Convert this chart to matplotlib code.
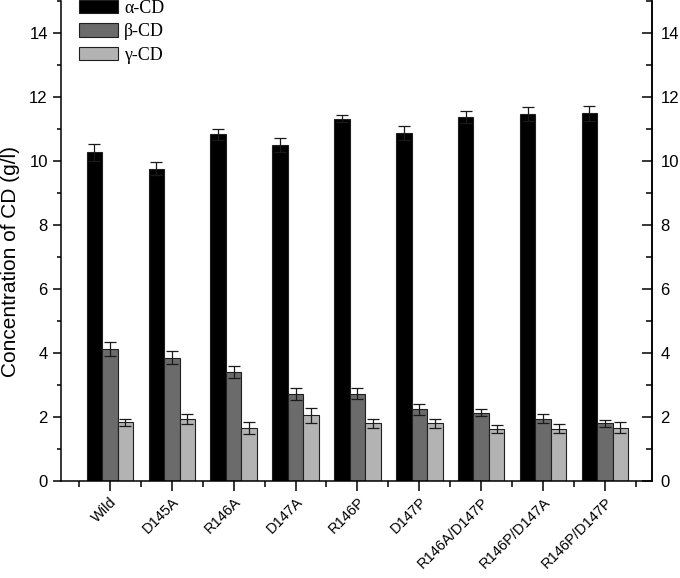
import matplotlib.pyplot as plt
import matplotlib.transforms as mtransforms
import numpy as np
from matplotlib.ticker import MultipleLocator

# Strains and measured CD concentrations (g/l)
strains = ['Wild', 'D145A', 'R146A', 'D147A', 'R146P', 'D147P',
           'R146A/D147P', 'R146P/D147A', 'R146P/D147P']
alpha_cd = [10.28, 9.77, 10.84, 10.51, 11.33, 10.89, 11.38, 11.47, 11.50]
alpha_err = [0.26, 0.20, 0.18, 0.23, 0.12, 0.22, 0.18, 0.21, 0.23]
beta_cd = [4.14, 3.86, 3.41, 2.72, 2.73, 2.24, 2.14, 1.95, 1.80]
beta_err = [0.22, 0.19, 0.19, 0.19, 0.18, 0.18, 0.10, 0.14, 0.12]
gamma_cd = [1.83, 1.93, 1.67, 2.05, 1.80, 1.80, 1.62, 1.64, 1.67]
gamma_err = [0.12, 0.15, 0.19, 0.24, 0.13, 0.14, 0.13, 0.14, 0.16]

plt.rcParams['font.family'] = ['Liberation Sans', 'DejaVu Sans']

fig = plt.figure(figsize=(6.8, 5.78), dpi=100)
ax = fig.add_axes([0.0897, 0.1678, 0.8691, 0.83])

x = np.arange(len(strains))
width = 0.25

series = [('α-CD', alpha_cd, alpha_err, '#000000'),
          ('β-CD', beta_cd, beta_err, '#6b6b6b'),
          ('γ-CD', gamma_cd, gamma_err, '#b3b3b3')]

for i, (name, vals, errs, col) in enumerate(series):
    barParams = {'color': col,
                 'edgecolor': '#202020',
                 'linewidth': 0.8,
                 'yerr': errs,
                 'error_kw': {'ecolor': '#1a1a1a', 'elinewidth': 0.9,
                              'capsize': 4, 'capthick': 0.9}}
    ax.bar(x + (i - 1) * width, vals, width, label=name, **barParams)

# Axes limits and spines
ax.set_xlim(-0.79, 8.76)
ax.set_ylim(0, 15)
ax.spines['top'].set_visible(False)
for s in ['left', 'right', 'bottom']:
    ax.spines[s].set_linewidth(1.1)

# Ticks
ax.set_xticks(x)
ax.set_xticklabels(strains, rotation=45, ha='right', rotation_mode='anchor',
                   fontsize=10.5)
shift = mtransforms.ScaledTranslation(7 / 72, -1 / 72, fig.dpi_scale_trans)
for lbl in ax.get_xticklabels():
    lbl.set_transform(lbl.get_transform() + shift)
ax.xaxis.set_minor_locator(MultipleLocator(1, offset=0.5))
ax.yaxis.set_major_locator(MultipleLocator(2))
ax.yaxis.set_minor_locator(MultipleLocator(1))
ax.tick_params(axis='x', which='major', direction='out', length=7, width=1.1,
               pad=3)
ax.tick_params(axis='x', which='minor', direction='out', length=4, width=1.1)
ax.tick_params(axis='y', which='major', direction='out', length=6, width=1.1,
               labelsize=12, pad=3.5)
ax.tick_params(axis='y', which='minor', direction='out', length=3, width=1.1)
ax.set_ylabel('Concentration of CD (g/l)', fontsize=15)
ax.yaxis.set_label_coords(-0.07, 0.457)

# Right axis with inward ticks
ax2 = ax.twinx()
ax2.set_ylim(0, 15)
ax2.yaxis.set_major_locator(MultipleLocator(2))
ax2.yaxis.set_minor_locator(MultipleLocator(1))
ax2.tick_params(axis='y', which='major', direction='in', length=7, width=1.1,
                labelsize=12, pad=6)
ax2.tick_params(axis='y', which='minor', direction='in', length=4, width=1.1)
for s in ['top', 'left', 'bottom']:
    ax2.spines[s].set_visible(False)
ax2.spines['right'].set_linewidth(1.1)

# Legend
legendParams = {'loc': 'upper left',
                'bbox_to_anchor': (0.0305, 1.003),
                'frameon': False,
                'borderpad': 0,
                'borderaxespad': 0,
                'prop': {'family': ['Liberation Serif', 'DejaVu Serif'], 'size': 13},
                'handlelength': 2.15,
                'handleheight': 0.75,
                'labelspacing': 0.36,
                'handletextpad': 0.35}
ax.legend(**legendParams)

plt.savefig('out.png', dpi=100)
